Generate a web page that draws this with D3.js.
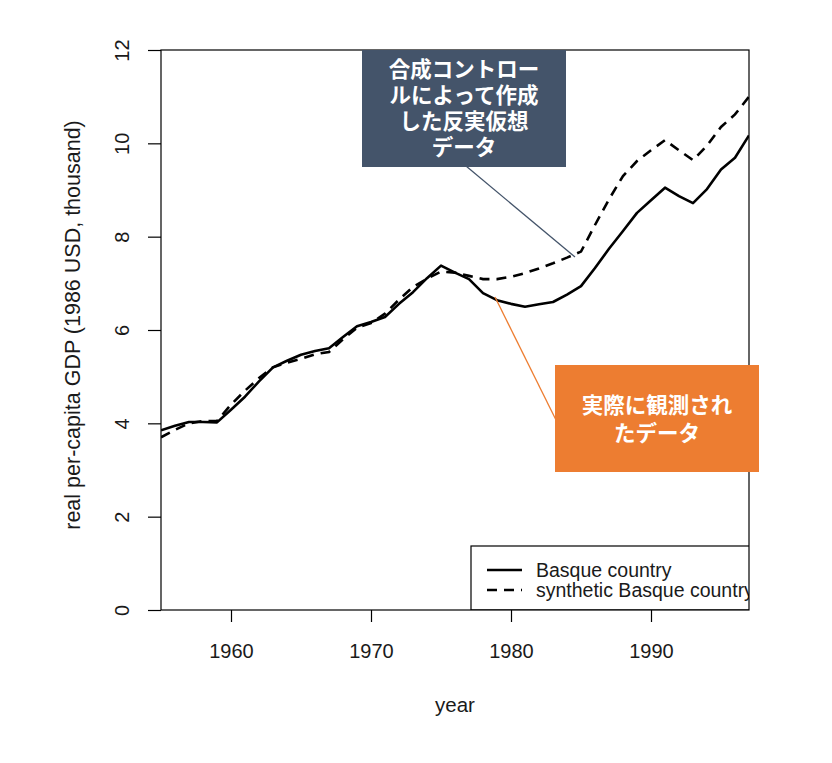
<!DOCTYPE html>
<html><head><meta charset="utf-8">
<script src="https://cdn.jsdelivr.net/npm/d3@7"></script>
<style>body{margin:0;background:#fff}svg{display:block}</style>
</head><body>
<script>
const years = d3.range(1955, 1998);
const basque = [3.85,3.95,4.03,4.03,4.02,4.29,4.57,4.90,5.20,5.34,5.47,5.55,5.61,5.85,6.08,6.17,6.28,6.56,6.81,7.11,7.38,7.23,7.09,6.79,6.64,6.56,6.50,6.55,6.60,6.76,6.94,7.33,7.74,8.12,8.51,8.78,9.05,8.87,8.72,9.02,9.44,9.69,10.17];
const synthetic = [3.70,3.86,4.00,4.05,4.05,4.40,4.70,4.97,5.20,5.30,5.38,5.48,5.53,5.80,6.05,6.15,6.35,6.65,6.92,7.10,7.25,7.23,7.16,7.09,7.09,7.14,7.22,7.32,7.43,7.55,7.68,8.25,8.80,9.30,9.62,9.85,10.07,9.85,9.64,9.95,10.35,10.62,11.00];
const xTicks = [1960,1970,1980,1990];
const yTicks = [0,2,4,6,8,10,12];
const legendLabels = ["Basque country","synthetic Basque country"];
const noteSynth = ["合成コントロー","ルによって作成","した反実仮想","データ"];
const noteActual = ["実際に観測され","たデータ"];

const W = 832, H = 763;
const L = 161, R = 749, T = 50, B = 610;
const svg = d3.select("body").append("svg").attr("width", W).attr("height", H);
const x = d3.scaleLinear().domain([1955, 1997]).range([L, R]);
const y = d3.scaleLinear().domain([0, 12]).range([B, T]);
const font = "'Liberation Sans', Arial, sans-serif";
const txt = "#1a1a1a";

svg.append("defs").append("clipPath").attr("id","clip")
  .append("rect").attr("x", L).attr("y", T).attr("width", R-L).attr("height", B-T);

// axes
const xa = svg.append("g").attr("transform", `translate(0,${B})`)
  .call(d3.axisBottom(x).tickValues(xTicks).tickFormat(d3.format("d")).tickSize(12).tickPadding(0));
xa.select(".domain").remove();
xa.selectAll("line").attr("stroke", "#000").attr("stroke-width", 1.2);
xa.selectAll("text").attr("font-size", 20).attr("font-family", font).attr("fill", txt)
  .attr("y", 41).attr("dy", "0.35em");

const ya = svg.append("g").attr("transform", `translate(${L},0)`)
  .call(d3.axisLeft(y).tickValues(yTicks).tickSize(13));
ya.select(".domain").remove();
ya.selectAll("line").attr("stroke", "#000").attr("stroke-width", 1.2);
ya.selectAll("text").attr("font-size", 20).attr("font-family", font).attr("fill", txt)
  .attr("x", null).attr("dy", null)
  .attr("text-anchor", "middle")
  .attr("transform", "translate(-39,0) rotate(-90)")
  .attr("dy", "0.35em");

svg.append("text").attr("x", 455).attr("y", 712).attr("text-anchor","middle")
  .attr("font-size", 20.5).attr("font-family", font).attr("fill",txt).text("year");
svg.append("text").attr("transform", "translate(80,325) rotate(-90)").attr("text-anchor","middle")
  .attr("font-size", 21.5).attr("font-family", font).attr("fill",txt)
  .text("real per-capita GDP (1986 USD, thousand)");

// lines
const g = svg.append("g").attr("clip-path","url(#clip)");
const line = d3.line().x((d,i)=>x(years[i])).y(d=>y(d));
g.append("path").datum(synthetic).attr("d", line).attr("fill","none").attr("stroke","#000")
  .attr("stroke-width", 2.6).attr("stroke-dasharray","10,7");
g.append("path").datum(basque).attr("d", line).attr("fill","none").attr("stroke","#000")
  .attr("stroke-width", 2.6).attr("stroke-linejoin","round");

// legend
const lg = svg.append("g").attr("clip-path","url(#clip)");
lg.append("rect").attr("x", 471).attr("y", 546).attr("width", 320).attr("height", 64)
  .attr("fill","#fff").attr("stroke","#000").attr("stroke-width",1.2);
legendLabels.forEach((t,i)=>{
  const ly = 570 + i*20;
  lg.append("line").attr("x1",487).attr("x2",522).attr("y1",ly).attr("y2",ly)
    .attr("stroke","#000").attr("stroke-width",2.6).attr("stroke-dasharray", i ? "10,7" : null);
  lg.append("text").attr("x",536).attr("y",ly).attr("dy","0.35em").attr("font-size",19.5)
    .attr("font-family",font).attr("fill",txt).text(t);
});

// box
svg.append("rect").attr("x", L).attr("y", T).attr("width", R-L).attr("height", B-T)
  .attr("fill","none").attr("stroke","#000").attr("stroke-width",1.2);

// annotations
const jp = "'Noto Sans CJK JP', sans-serif";
svg.append("line").attr("x1",466).attr("y1",166).attr("x2",575).attr("y2",257)
  .attr("stroke","#44546A").attr("stroke-width",1.3);
svg.append("rect").attr("x",362).attr("y",50).attr("width",204).attr("height",117).attr("fill","#44546A");
noteSynth.forEach((t,i)=>{
  svg.append("text").attr("x",464).attr("y",69+i*26).attr("dy","0.35em").attr("text-anchor","middle")
    .attr("font-size",21.5).attr("font-weight","bold").attr("font-family",jp).attr("fill","#fff").text(t);
});
svg.append("line").attr("x1",495).attr("y1",297).attr("x2",556).attr("y2",420)
  .attr("stroke","#ED7D31").attr("stroke-width",1.3);
svg.append("rect").attr("x",555).attr("y",365).attr("width",204).attr("height",107).attr("fill","#ED7D31");
noteActual.forEach((t,i)=>{
  svg.append("text").attr("x",657).attr("y",405+i*28).attr("dy","0.35em").attr("text-anchor","middle")
    .attr("font-size",21.5).attr("font-weight","bold").attr("font-family",jp).attr("fill","#fff").text(t);
});
</script>
</body></html>
